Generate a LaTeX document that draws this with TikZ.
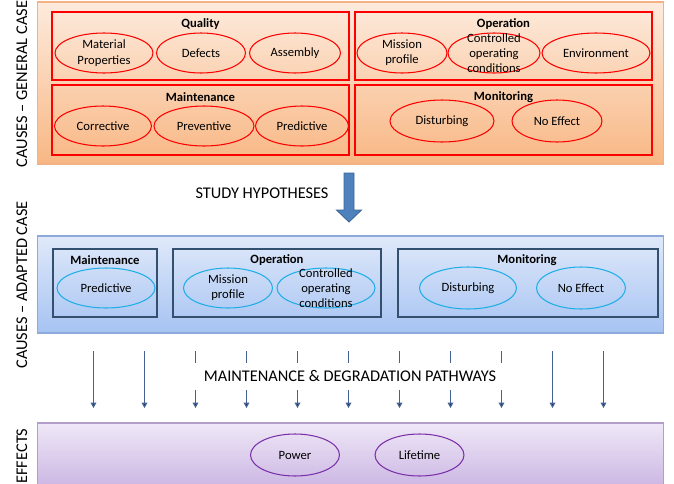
\documentclass[tikz,border=0pt]{standalone}
\usepackage{fontspec}
\setmainfont{Carlito}
\usepackage{tikz}
\usetikzlibrary{arrows.meta,shapes.geometric}
\definecolor{genTop}{HTML}{FDEBDD}
\definecolor{genBot}{HTML}{F8B784}
\definecolor{genEdge}{HTML}{F4B183}
\definecolor{causeRed}{HTML}{FF0000}
\definecolor{adaTop}{HTML}{E0E9FA}
\definecolor{adaBot}{HTML}{A6C3F2}
\definecolor{adaEdge}{HTML}{8EAADB}
\definecolor{boxSlate}{HTML}{34506F}
\definecolor{itemCyan}{HTML}{1FAEE6}
\definecolor{effTop}{HTML}{EFE8F7}
\definecolor{effBot}{HTML}{C9B3E2}
\definecolor{effEdge}{HTML}{B39DCB}
\definecolor{effPurple}{HTML}{7A30A8}
\definecolor{pathNavy}{HTML}{1F3864}
\definecolor{pathLine}{HTML}{44618F}
\definecolor{hypBlue}{HTML}{4F81BD}
\definecolor{hypEdge}{HTML}{3A6796}

\begin{document}
\begin{tikzpicture}[
    x=0.02cm, y=-0.02cm,
    panel/.style={rectangle, draw, line width=0.6pt, minimum width=12.54cm},
    group/.style={rectangle, draw, line width=1.1pt, minimum height=1.36cm},
    head/.style={font=\fontsize{7.2}{8.7}\selectfont\bfseries, inner sep=1pt},
    itext/.style={align=center, font=\fontsize{7.2}{8.7}\selectfont, inner sep=0pt},
    item/.style={ellipse, draw, line width=0.6pt, inner sep=0pt,
                 minimum height=0.8cm, label={[itext]center:#1}},
    side/.style={rotate=90, font=\fontsize{9.3}{11}\selectfont, inner sep=0pt},
    big/.style={font=\fontsize{9.3}{11}\selectfont},
    >={Triangle[length=3pt,width=3.2pt]}
  ]
  \useasboundingbox (0,0) rectangle (674,484);

  % general case
  \node[panel, draw=genEdge, top color=genTop, bottom color=genBot,
        minimum height=3.24cm] (gen) at (350.5,83) {};
  \node[group, draw=causeRed, minimum width=5.94cm] (qual) at (200.5,46) {};
  \node[group, draw=causeRed, minimum width=5.94cm] (oper) at (503.5,46) {};
  \node[group, draw=causeRed, minimum width=5.94cm, minimum height=1.4cm] (maint) at (200.5,120) {};
  \node[group, draw=causeRed, minimum width=5.94cm, minimum height=1.4cm] (monit) at (503.5,120) {};
  \node[head] (qualT) at (200.5,24) {Quality};
  \node[head] (operT) at (503.5,24) {Operation};
  \node[head] (maintT) at (200.5,97) {Maintenance};
  \node[head] (monitT) at (503.5,97) {Monitoring};
  \node[item={Material\\Properties}, draw=causeRed, minimum width=1.96cm] (mat) at (104,53) {};
  \node[item=Defects, draw=causeRed, minimum width=1.78cm] (def) at (201,53) {};
  \node[item=Assembly, draw=causeRed, minimum width=1.82cm] (ass) at (295,53) {};
  \node[item={Mission\\profile}, draw=causeRed, minimum width=1.8cm] (mis) at (402,53) {};
  \node[item={Controlled\\operating\\conditions}, draw=causeRed, minimum width=1.84cm] (ctl) at (494,53) {};
  \node[item=Environment, draw=causeRed, minimum width=2.16cm] (env) at (596,53) {};
  \node[item=Corrective, draw=causeRed, minimum width=1.94cm] (cor) at (103,126) {};
  \node[item=Preventive, draw=causeRed, minimum width=2cm] (pre) at (204,126) {};
  \node[item=Predictive, draw=causeRed, minimum width=1.86cm] (prd) at (302,126) {};
  \node[item=Disturbing, draw=causeRed, minimum width=2.08cm, minimum height=0.84cm] (dis) at (442,121) {};
  \node[item=No Effect, draw=causeRed, minimum width=1.8cm, minimum height=0.84cm] (noe) at (557,121) {};
  \node[side] (genL) at (22,84) {CAUSES – GENERAL CASE};

  % study hypotheses
  \node[big] (hyp) at (262,193) {STUDY HYPOTHESES};
  \filldraw[fill=hypBlue, draw=hypEdge, line width=0.5pt]
    (344,173) -- (354,173) -- (354,210) -- (361.5,210) -- (349,222)
    -- (336.5,210) -- (344,210) -- cycle;

  % adapted case
  \node[panel, draw=adaEdge, top color=adaTop, bottom color=adaBot,
        minimum height=1.94cm] (ada) at (350.5,284.5) {};
  \node[group, draw=boxSlate, line width=0.9pt, minimum width=2.08cm] (amaint) at (105,283) {};
  \node[group, draw=boxSlate, line width=0.9pt, minimum width=4.16cm] (aoper) at (277,283) {};
  \node[group, draw=boxSlate, line width=0.9pt, minimum width=5.2cm] (amonit) at (528,283) {};
  \node[head] (amaintT) at (105,260) {Maintenance};
  \node[head] (aoperT) at (277,260) {Operation};
  \node[head] (amonitT) at (527,260) {Monitoring};
  \node[item=Predictive, draw=itemCyan, minimum width=1.96cm] (aprd) at (106,288) {};
  \node[item={Mission\\profile}, draw=itemCyan, minimum width=1.78cm] (amis) at (228,288) {};
  \node[item={Controlled\\operating\\conditions}, draw=itemCyan, minimum width=1.96cm] (actl) at (326,288) {};
  \node[item=Disturbing, draw=itemCyan, minimum width=1.94cm, minimum height=0.84cm] (adis) at (468,288) {};
  \node[item=No Effect, draw=itemCyan, minimum width=1.78cm, minimum height=0.84cm] (anoe) at (581,288) {};
  \node[side] (adaL) at (22,285) {CAUSES – ADAPTED CASE};

  % pathways
  \foreach \i in {0,...,10} {
    \coordinate (s\i) at (93.5+51*\i,351);
    \coordinate (t\i) at (93.5+51*\i,408);
    \draw[pathLine, line width=0.6pt, -{Triangle[length=3pt,width=3.2pt,fill=pathNavy]}] (s\i) -- (t\i);
  }
  \node[big, fill=white, inner xsep=0.17cm, minimum height=0.54cm] (path) at (350,376)
    {MAINTENANCE \& DEGRADATION PATHWAYS};

  % effects
  \node[panel, draw=effEdge, top color=effTop, bottom color=effBot,
        minimum height=1.36cm] (eff) at (350.5,457) {};
  \node[item=Power, draw=effPurple, minimum width=1.78cm, minimum height=0.84cm] (pow) at (295,455) {};
  \node[item=Lifetime, draw=effPurple, minimum width=1.78cm, minimum height=0.84cm] (life) at (419.5,455) {};
  \node[side] (effL) at (22,456) {EFFECTS};
\end{tikzpicture}
\end{document}
